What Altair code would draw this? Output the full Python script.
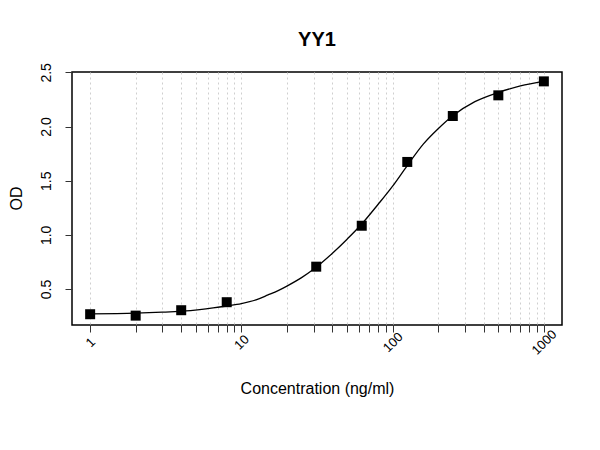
import altair as alt
import pandas as pd

# Measured standards
conc = [1, 2, 4, 8, 31.25, 62.5, 125, 250, 500, 1000]
od = [0.267, 0.254, 0.304, 0.378, 0.706, 1.084, 1.673, 2.097, 2.288, 2.417]

# Fitted curve
curve_conc = [1, 2, 3, 4, 5.3, 6.5, 8, 10, 12.5, 15, 17.5, 20, 25, 30, 40, 50, 62.5, 80, 100, 125, 160,
              200, 250, 350, 500, 700, 1000]
curve_od = [0.270, 0.277, 0.286, 0.295, 0.310, 0.325, 0.343, 0.365, 0.400, 0.445, 0.485, 0.527, 0.605,
            0.682, 0.83, 0.96, 1.10, 1.28, 1.45, 1.64, 1.84, 1.98, 2.10, 2.23, 2.315, 2.375, 2.42]

x_ticks = [m * 10 ** e for e in range(3) for m in range(1, 10)] + [1000]
y_ticks = [0.5, 1.0, 1.5, 2.0, 2.5]
x_domain = [10 ** -0.12, 10 ** 3.12]
y_domain = [0.1675, 2.5035]

pts = pd.DataFrame({"conc": conc, "od": od})
crv = pd.DataFrame({"conc": curve_conc, "od": curve_od})

FONT = "Liberation Sans"

x_enc = alt.X(
    "conc:Q",
    scale=alt.Scale(type="log", domain=x_domain, nice=False),
    axis=alt.Axis(
        values=x_ticks,
        format="d",
        labelExpr="(datum.value == 1 || datum.value == 10 || datum.value == 100 || datum.value == 1000) ? datum.label : ''",
        labelAngle=315,
        labelAlign="center",
        labelBaseline="middle",
        labelPadding=10,
        labelFontSize=13,
        labelOverlap=False,
        labelFont=FONT,
        labelColor="#000000",
        tickSize=7,
        tickColor="#333333",
        domain=False,
        grid=True,
        gridColor="#cfcfcf",
        gridDash=[2, 3],
        gridWidth=1,
        title="Concentration (ng/ml)",
        titleFont=FONT,
        titleFontSize=16,
        titleFontWeight="normal",
        titleColor="#000000",
        titleBaseline="alphabetic",
        titleY=68,
    ),
)

y_enc = alt.Y(
    "od:Q",
    scale=alt.Scale(domain=y_domain, nice=False, zero=False),
    axis=alt.Axis(
        values=y_ticks,
        format=".1f",
        labelAngle=270,
        labelAlign="center",
        labelBaseline="alphabetic",
        labelPadding=15,
        labelFontSize=14,
        labelFont=FONT,
        labelColor="#000000",
        tickSize=7,
        tickColor="#333333",
        domain=False,
        grid=False,
        title="OD",
        titleFont=FONT,
        titleFontSize=16,
        titleFontWeight="normal",
        titleColor="#000000",
        titleAngle=270,
        titleAlign="center",
        titleBaseline="alphabetic",
        titleX=-51,
        titleY=126,
    ),
)

line = alt.Chart(crv).mark_line(color="#000000", strokeWidth=1.3, interpolate="monotone").encode(
    x=x_enc, y=y_enc
)
points = alt.Chart(pts).mark_square(size=100, color="#000000", opacity=1).encode(x="conc:Q", y="od:Q")

chart = (
    alt.layer(line, points)
    .properties(
        width=490,
        height=253,
        background="white",
        title=alt.TitleParams(
            "YY1", font=FONT, fontSize=20, fontWeight="bold", color="#000000",
            anchor="middle", baseline="alphabetic", offset=27, dy=30,
        ),
        autosize=alt.AutoSizeParams(type="none"),
        padding={"left": 64, "top": 64, "right": 30, "bottom": 117},
    )
    .configure_view(stroke="#000000", strokeWidth=1.5)
)

chart.save("out.html", embed_options={"renderer": "svg", "actions": False})
